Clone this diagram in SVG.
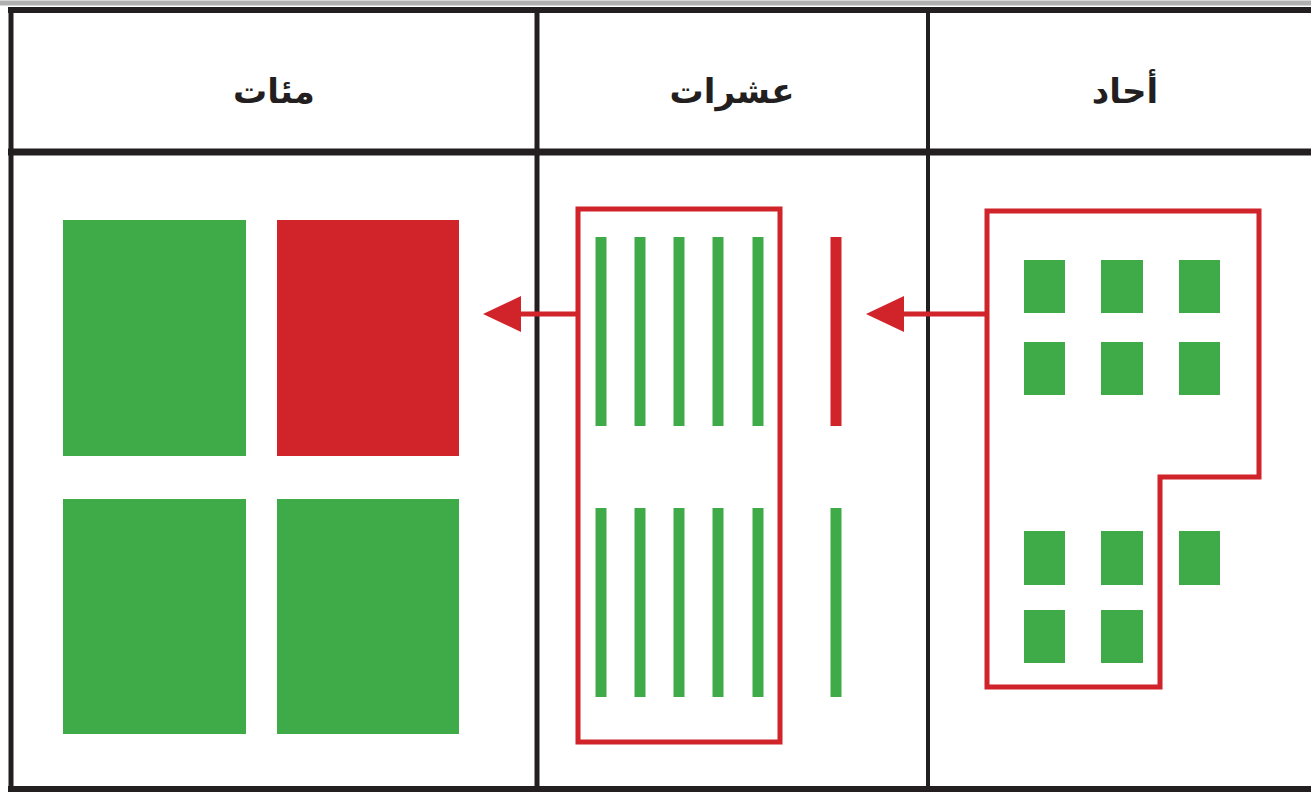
<svg xmlns="http://www.w3.org/2000/svg" width="1311" height="792" viewBox="0 0 1311 792">
<defs>
<style>
.grid{stroke:#231f20;fill:none}
.g{fill:#3fab48}
.r{fill:#d0232a}
.bar{stroke-width:11;stroke-linecap:butt}
.gb{stroke:#3fab48}
.rb{stroke:#d0232a}
.box{fill:none;stroke:#d0232a;stroke-width:5}
.conn{stroke:#d0232a;stroke-width:5;fill:none}
.hd{font-family:"DejaVu Sans",sans-serif;font-size:34px;font-weight:bold;fill:#231f20;text-anchor:middle}
</style>
<marker id="ah" markerUnits="userSpaceOnUse" markerWidth="40" markerHeight="38" refX="1" refY="19" orient="auto">
<path d="M0,1 L0,37 L38,19 Z" fill="#d0232a"/>
</marker>
</defs>
<rect width="1311" height="792" fill="#fff"/>
<g id="table">
<line x1="0" y1="3" x2="1311" y2="3" stroke="#b0b0b0" stroke-width="5"/>
<line class="grid" x1="8" y1="10" x2="1311" y2="10" stroke-width="6"/>
<line class="grid" x1="8" y1="152" x2="1311" y2="152" stroke-width="7"/>
<line class="grid" x1="11" y1="7" x2="11" y2="792" stroke-width="5"/>
<line class="grid" x1="537" y1="7" x2="537" y2="792" stroke-width="5"/>
<line class="grid" x1="928" y1="7" x2="928" y2="792" stroke-width="4"/>
<line class="grid" x1="8" y1="789" x2="1311" y2="789" stroke-width="6"/>
</g>
<g id="header-hundreds"><text class="hd" x="274" y="103">مئات</text></g>
<g id="header-tens"><text class="hd" x="732" y="103">عشرات</text></g>
<g id="header-ones"><text class="hd" x="1125" y="103">أحاد</text></g>
<g id="hundreds">
<rect class="g" x="63" y="220" width="183" height="236"/>
<rect class="r" x="277" y="220" width="182" height="236"/>
<rect class="g" x="63" y="499" width="183" height="235"/>
<rect class="g" x="277" y="499" width="182" height="235"/>
</g>
<g id="tens">
<rect class="box" x="578" y="209" width="202" height="533"/>
<line class="bar gb" x1="601" y1="237" x2="601" y2="426"/>
<line class="bar gb" x1="640" y1="237" x2="640" y2="426"/>
<line class="bar gb" x1="679" y1="237" x2="679" y2="426"/>
<line class="bar gb" x1="718" y1="237" x2="718" y2="426"/>
<line class="bar gb" x1="758" y1="237" x2="758" y2="426"/>
<line class="bar rb" x1="836" y1="237" x2="836" y2="426"/>
<line class="bar gb" x1="601" y1="508" x2="601" y2="697"/>
<line class="bar gb" x1="640" y1="508" x2="640" y2="697"/>
<line class="bar gb" x1="679" y1="508" x2="679" y2="697"/>
<line class="bar gb" x1="718" y1="508" x2="718" y2="697"/>
<line class="bar gb" x1="758" y1="508" x2="758" y2="697"/>
<line class="bar gb" x1="836" y1="508" x2="836" y2="697"/>
</g>
<g id="ones">
<path class="box" d="M987,211 L1259,211 L1259,477 L1160,477 L1160,687 L987,687 Z"/>
<rect class="g" x="1024" y="260" width="41" height="53"/>
<rect class="g" x="1101" y="260" width="42" height="53"/>
<rect class="g" x="1179" y="260" width="41" height="53"/>
<rect class="g" x="1024" y="342" width="41" height="53"/>
<rect class="g" x="1101" y="342" width="42" height="53"/>
<rect class="g" x="1179" y="342" width="41" height="53"/>
<rect class="g" x="1024" y="531" width="41" height="54"/>
<rect class="g" x="1101" y="531" width="42" height="54"/>
<rect class="g" x="1179" y="531" width="41" height="54"/>
<rect class="g" x="1024" y="610" width="41" height="53"/>
<rect class="g" x="1101" y="610" width="42" height="53"/>
</g>
<g id="connectors">
<line class="conn" x1="578" y1="314" x2="520" y2="314" marker-end="url(#ah)"/>
<line class="conn" x1="987" y1="314" x2="903" y2="314" marker-end="url(#ah)"/>
</g>
</svg>
